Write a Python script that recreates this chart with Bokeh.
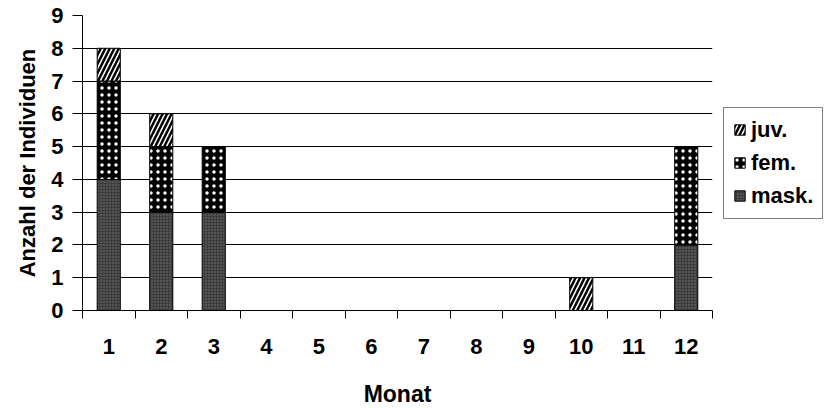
from bokeh.plotting import figure
from bokeh.models import ColumnDataSource, FixedTicker, Legend, LegendItem
from bokeh.embed import file_html
from bokeh.resources import INLINE

months = [1, 2, 3, 4, 5, 6, 7, 8, 9, 10, 11, 12]
mask = [4, 3, 3, 0, 0, 0, 0, 0, 0, 0, 0, 2]
fem = [3, 2, 2, 0, 0, 0, 0, 0, 0, 0, 0, 3]
juv = [1, 1, 0, 0, 0, 0, 0, 0, 0, 1, 0, 0]
y_ticks = [0, 1, 2, 3, 4, 5, 6, 7, 8, 9]

src = ColumnDataSource(dict(month=months, mask=mask, fem=fem, juv=juv))

FONT = "Liberation Sans"

p = figure(frame_width=630, frame_height=295, x_range=(0.5, 12.5), y_range=(0, 9),
           output_backend="svg", toolbar_location=None,
           min_border_left=82, min_border_right=0, min_border_top=15, min_border_bottom=98)
p.outline_line_color = None
p.background_fill_color = "white"

rs = p.vbar_stack(["mask", "fem", "juv"], x="month", width=0.44, source=src,
                  fill_color=["#3c3c3c", "black", "white"],
                  line_color="black", line_width=1,
                  hatch_pattern=[".", ".", "/"],
                  hatch_color=["#7a7a7a", "white", "black"],
                  hatch_scale=[3, 7, 9],
                  hatch_weight=[1, 0.5, 2.5])
r_mask, r_fem, r_juv = rs

p.xgrid.visible = False
p.ygrid.grid_line_color = "black"
p.ygrid.grid_line_width = 1
p.ygrid.ticker = FixedTicker(ticks=y_ticks)

# y axis
p.yaxis.ticker = FixedTicker(ticks=y_ticks)
p.yaxis.major_tick_out = 10
p.yaxis.major_tick_in = 0
p.yaxis.minor_tick_out = 0
p.yaxis.minor_tick_in = 0
p.yaxis.axis_line_color = "black"
p.yaxis.major_tick_line_color = "black"
p.yaxis.major_label_text_font = FONT
p.yaxis.major_label_text_font_style = "bold"
p.yaxis.major_label_text_font_size = "22px"
p.yaxis.major_label_text_color = "black"
p.yaxis.major_label_standoff = 9
p.yaxis.axis_label = "Anzahl der Individuen"
p.yaxis.axis_label_text_font = FONT
p.yaxis.axis_label_text_font_style = "bold"
p.yaxis.axis_label_text_font_size = "22px"
p.yaxis.axis_label_text_color = "black"
p.yaxis.axis_label_standoff = 8

# x axis
p.xaxis.ticker = FixedTicker(ticks=months, minor_ticks=[m - 0.5 for m in months] + [12.5])
p.xaxis.major_tick_out = 0
p.xaxis.major_tick_in = 0
p.xaxis.minor_tick_out = 8
p.xaxis.minor_tick_in = 0
p.xaxis.minor_tick_line_color = "black"
p.xaxis.axis_line_color = "black"
p.xaxis.major_label_text_font = FONT
p.xaxis.major_label_text_font_style = "bold"
p.xaxis.major_label_text_font_size = "22px"
p.xaxis.major_label_text_color = "black"
p.xaxis.major_label_standoff = 20
p.xaxis.axis_label = "Monat"
p.xaxis.axis_label_text_font = FONT
p.xaxis.axis_label_text_font_style = "bold"
p.xaxis.axis_label_text_font_size = "23px"
p.xaxis.axis_label_text_color = "black"
p.xaxis.axis_label_standoff = 24

legend = Legend(items=[LegendItem(label="juv.", renderers=[r_juv]),
                       LegendItem(label="fem.", renderers=[r_fem]),
                       LegendItem(label="mask.", renderers=[r_mask])],
                location="center_left")
legend.label_text_font = FONT
legend.label_text_font_style = "bold"
legend.label_text_font_size = "22px"
legend.label_text_color = "black"
legend.glyph_width = 13
legend.glyph_height = 13
legend.label_standoff = 5
legend.label_height = 23
legend.spacing = 7
legend.padding = 9
legend.margin = 11
legend.border_line_color = "black"
legend.border_line_width = 1
legend.background_fill_alpha = 1
p.add_layout(legend, "right")

open("out.html", "w").write(file_html(p, INLINE))
